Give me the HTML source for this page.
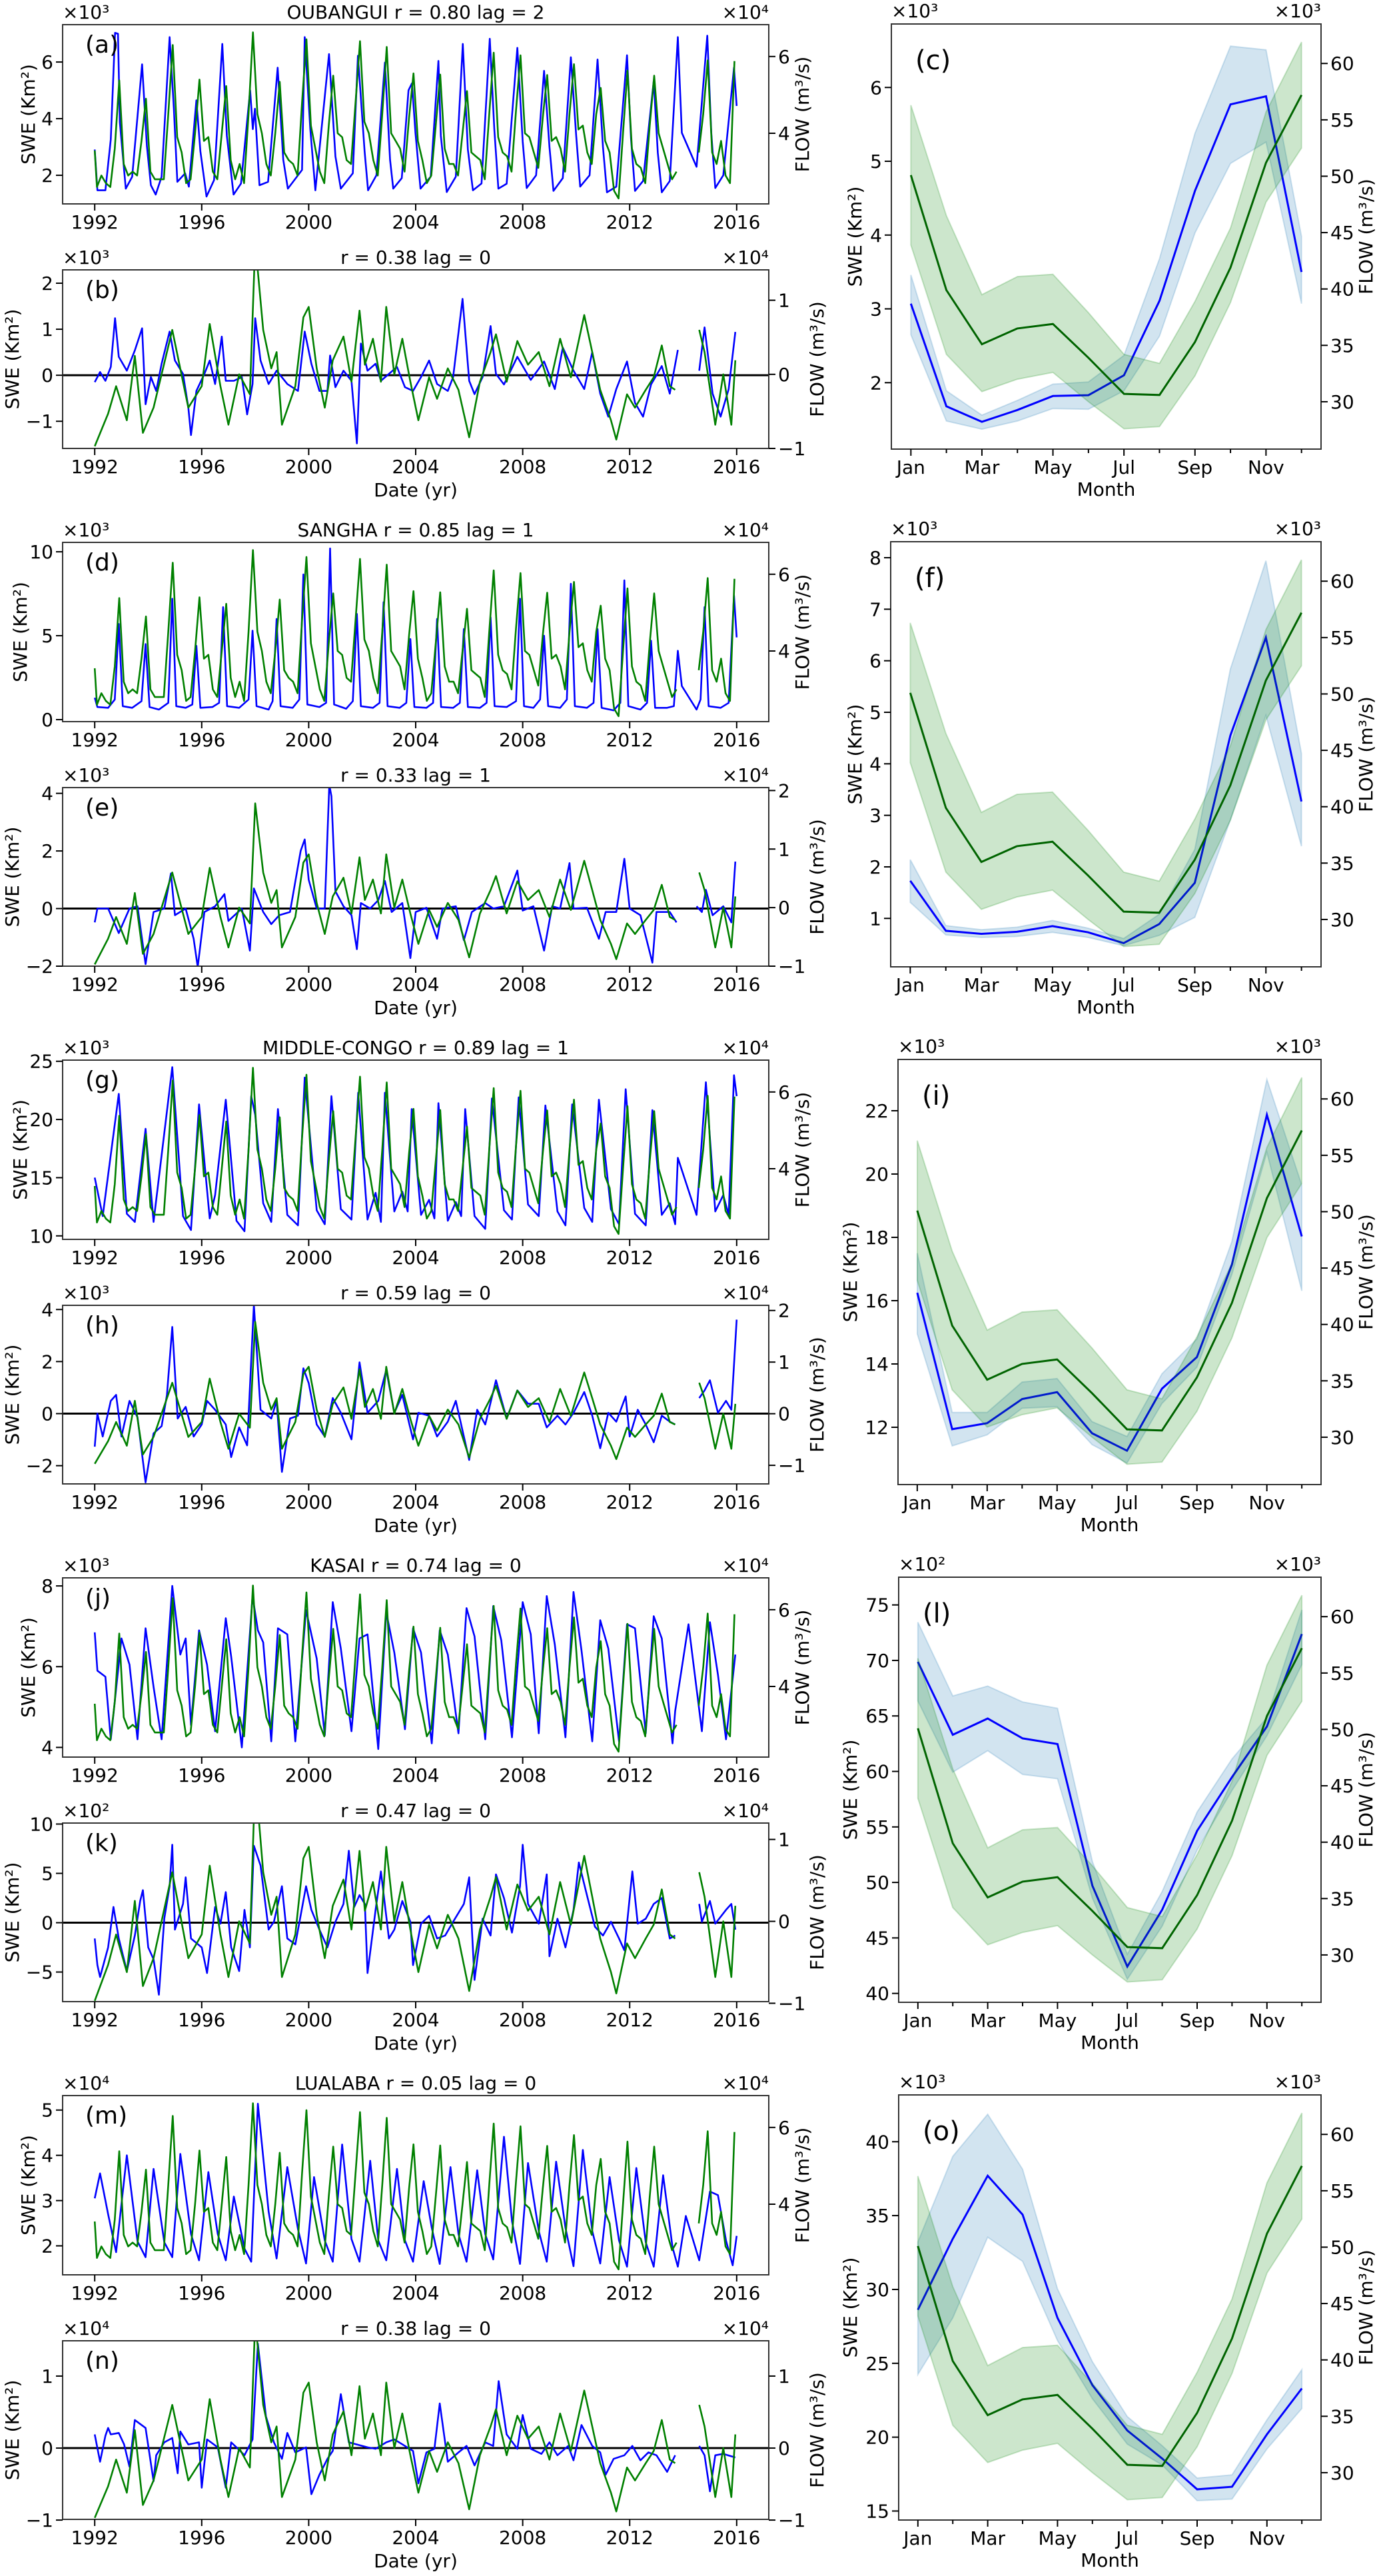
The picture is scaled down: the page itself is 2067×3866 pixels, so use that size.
<!DOCTYPE html>
<html><head><meta charset="utf-8"><title>SWE vs FLOW</title>
<style>
html,body{margin:0;padding:0;background:#fff;}
svg{display:block;font-family:"DejaVu Sans","Liberation Sans",sans-serif;}
</style></head>
<body>
<svg id="fig" xmlns="http://www.w3.org/2000/svg" width="2067" height="3866" viewBox="0 0 2067 3866">
<rect x="0" y="0" width="2067" height="3866" fill="#fff"/>
</svg>
<script>
// ---------------- DATA ----------------
const flowStart = 3.55;
const flowVals = [
2.6,2.9,2.7,2.6,3.6,5.38, 3.2,2.9,3.0,2.9,3.8,4.9, 3.0,2.8,2.8,2.8,4.5,6.3, 3.9,3.5,2.7,2.8,4.0,5.4,
3.8,3.9,3.0,2.8,4.0,5.23, 3.3,2.8,3.2,2.7,4.5,6.63, 4.5,4.0,3.2,2.9,4.0,5.34, 3.5,3.3,3.2,2.9,4.8,6.45,
4.2,3.6,3.0,2.7,4.2,5.5, 4.0,3.9,3.3,3.2,4.8,6.4, 4.3,4.0,3.3,2.9,4.5,6.25, 4.0,3.8,3.6,3.0,4.4,5.56,
3.8,3.3,2.7,2.9,4.2,5.53, 3.6,3.2,3.2,2.9,4.0,5.1, 3.5,3.4,3.3,2.8,4.5,6.1, 3.9,3.5,3.4,3.0,4.6,6.03,
4.0,3.9,3.5,3.1,4.4,5.52, 3.8,3.9,3.6,3.0,4.5,5.8, 4.1,4.2,3.5,3.2,4.5,5.18, 3.8,3.5,2.5,2.3,4.0,5.63,
3.6,3.2,3.1,2.7,4.2,5.5, 4.0,3.6,3.2,2.8,3.0,null, null,null,null,3.5,4.5,5.9, 3.5,3.2,3.8,2.9,2.7,5.88];
const flowMonths = [1,3,5,7,9,11];

const flowAnom = [[1992.0,-0.97],[1992.5,-0.53],[1992.8,-0.16],[1993.2,-0.62],[1993.5,0.25],[1993.8,-0.79],[1994.2,-0.45],[1994.9,0.6],[1995.5,-0.45],[1996.0,-0.16],[1996.3,0.68],[1996.7,-0.16],[1997.0,-0.68],[1997.4,0],[1997.8,-0.27],[1998.0,1.78],[1998.3,0.6],[1998.6,0.08],[1998.8,0.3],[1999.0,-0.68],[1999.5,-0.16],[1999.8,0.77],[2000.0,0.91],[2000.3,0.08],[2000.6,-0.45],[2000.9,0.19],[2001.3,0.51],[2001.6,-0.1],[2001.9,0.86],[2002.1,0.13],[2002.4,0.48],[2002.7,-0.1],[2002.9,0.91],[2003.2,0],[2003.5,0.48],[2003.8,-0.1],[2004.1,-0.62],[2004.5,-0.04],[2004.8,-0.33],[2005.2,0.08],[2005.6,-0.21],[2006.0,-0.85],[2006.4,-0.1],[2006.8,0.3],[2007.0,0.54],[2007.4,-0.1],[2007.8,0.45],[2008.2,0.13],[2008.6,0.3],[2009.0,-0.16],[2009.4,0.48],[2009.8,-0.04],[2010.3,0.8],[2010.6,0.3],[2010.9,-0.21],[2011.3,-0.62],[2011.5,-0.88],[2011.9,-0.27],[2012.2,-0.45],[2012.6,-0.21],[2012.9,-0.04],[2013.2,0.39],[2013.5,-0.16],[2013.7,-0.21],[2014.1,null],[2014.6,0.6],[2014.8,0.3],[2015.2,-0.68],[2015.5,0],[2015.8,-0.68],[2015.95,0.19]];

const sweOubangui = [[1992.0,2.91],[1992.1,1.47],[1992.4,1.47],[1992.6,3.27],[1992.76,7.03],[1992.87,7.0],[1992.94,3.87],[1993.16,1.53],[1993.4,1.95],[1993.77,5.92],[1993.95,3.03],[1994.1,1.65],[1994.28,1.32],[1994.5,1.95],[1994.8,6.88],[1994.96,4.35],[1995.09,1.77],[1995.38,2.07],[1995.52,1.6],[1995.8,4.65],[1995.95,2.85],[1996.18,1.25],[1996.46,1.83],[1996.77,6.64],[1996.94,3.4],[1997.19,1.32],[1997.47,1.71],[1997.81,5.0],[1997.91,3.63],[1997.99,4.35],[1998.16,1.65],[1998.48,1.77],[1998.84,5.8],[1999.05,2.55],[1999.22,1.53],[1999.75,2.19],[1999.85,6.88],[2000.06,3.63],[2000.25,1.47],[2000.76,6.28],[2001.0,2.67],[2001.2,1.53],[2001.65,2.07],[2001.84,6.22],[2002.09,2.85],[2002.22,1.47],[2002.53,2.0],[2002.85,5.98],[2003.04,2.55],[2003.16,1.53],[2003.48,1.9],[2003.73,5.0],[2003.86,5.25],[2003.99,3.51],[2004.18,1.53],[2004.56,1.95],[2004.85,6.04],[2004.94,3.4],[2005.16,1.41],[2005.5,1.95],[2005.76,6.64],[2005.95,2.91],[2006.14,1.47],[2006.46,1.71],[2006.77,6.82],[2006.94,3.63],[2007.09,1.53],[2007.4,1.7],[2007.8,6.5],[2008.0,3.2],[2008.15,1.55],[2008.5,2.0],[2008.8,5.69],[2009.0,3.0],[2009.15,1.45],[2009.5,1.9],[2009.8,6.17],[2010.0,3.4],[2010.15,1.6],[2010.5,2.0],[2010.8,6.09],[2011.0,3.0],[2011.15,1.4],[2011.5,1.6],[2011.9,6.24],[2012.05,3.3],[2012.2,1.45],[2012.5,1.8],[2012.9,5.33],[2013.05,2.8],[2013.2,1.4],[2013.5,1.8],[2013.8,6.88],[2013.95,3.5],[2014.5,2.3],[2014.9,6.93],[2015.05,3.5],[2015.2,1.55],[2015.5,2.0],[2015.9,5.8],[2016.0,4.45]];
const sweSangha = [[1992.0,1.3],[1992.1,0.75],[1992.5,0.7],[1992.75,1.2],[1992.9,5.7],[1993.05,0.8],[1993.4,0.7],[1993.75,1.1],[1993.9,4.5],[1994.05,0.75],[1994.4,0.6],[1994.75,1.0],[1994.9,7.2],[1995.05,0.8],[1995.4,0.7],[1995.65,0.9],[1995.8,4.4],[1995.95,0.7],[1996.4,0.75],[1996.65,1.0],[1996.8,6.7],[1996.95,0.8],[1997.4,0.7],[1997.75,1.2],[1997.9,5.3],[1998.05,0.8],[1998.5,0.6],[1998.65,1.1],[1998.8,6.0],[1998.95,0.8],[1999.4,0.7],[1999.65,1.2],[1999.8,8.65],[1999.95,0.9],[2000.4,0.75],[2000.65,1.0],[2000.8,10.2],[2000.95,0.9],[2001.4,0.65],[2001.65,1.1],[2001.8,6.3],[2001.95,0.8],[2002.4,0.7],[2002.65,1.0],[2002.8,7.0],[2002.95,0.8],[2003.4,0.7],[2003.65,1.0],[2003.8,4.8],[2003.95,0.75],[2004.4,0.7],[2004.65,1.0],[2004.8,6.0],[2004.95,0.75],[2005.4,0.7],[2005.65,1.0],[2005.8,5.4],[2005.95,0.75],[2006.4,0.7],[2006.65,1.0],[2006.8,6.1],[2006.95,0.8],[2007.4,0.75],[2007.75,1.1],[2007.9,7.2],[2008.05,0.8],[2008.4,0.7],[2008.65,1.2],[2008.8,5.0],[2008.95,0.8],[2009.4,0.7],[2009.65,1.2],[2009.8,8.1],[2009.95,0.8],[2010.4,0.7],[2010.65,1.0],[2010.8,5.4],[2010.95,0.7],[2011.4,0.55],[2011.65,1.0],[2011.8,8.3],[2011.95,0.8],[2012.4,0.6],[2012.65,1.0],[2012.8,4.7],[2012.95,0.7],[2013.4,0.7],[2013.65,0.8],[2013.8,4.1],[2013.95,2.0],[2014.5,0.6],[2014.65,1.2],[2014.8,6.7],[2014.95,0.8],[2015.4,0.7],[2015.7,1.0],[2015.9,7.4],[2016.0,4.9]];
const sweMiddleCongo = [[1992.0,15],[1992.3,11.7],[1992.9,22.2],[1993.2,11.9],[1993.5,11.2],[1993.9,19.2],[1994.2,11.2],[1994.9,24.5],[1995.3,11.7],[1995.6,10.5],[1995.9,21.3],[1996.3,11.5],[1996.5,13.5],[1996.9,21.7],[1997.3,11.3],[1997.6,10.4],[1997.85,22.0],[1998.0,20.4],[1998.3,12.8],[1998.6,11.2],[1998.85,20.9],[1999.2,11.8],[1999.6,10.9],[1999.85,23.6],[2000.3,12.2],[2000.6,11.0],[2000.85,22.0],[2001.2,12.3],[2001.6,11.4],[2001.85,22.3],[2002.2,11.4],[2002.5,13.7],[2002.7,11.2],[2002.85,22.3],[2003.2,12.1],[2003.5,13.8],[2003.7,12.1],[2003.85,20.9],[2004.2,11.8],[2004.5,13.1],[2004.7,11.5],[2004.85,21.4],[2005.2,11.3],[2005.5,12.9],[2005.7,11.7],[2005.85,20.9],[2006.2,11.7],[2006.6,10.6],[2006.85,21.8],[2007.3,12.2],[2007.6,11.4],[2007.85,21.9],[2008.2,12.7],[2008.6,11.7],[2008.85,21.2],[2009.3,12.1],[2009.6,10.9],[2009.85,21.3],[2010.3,12.4],[2010.6,11.2],[2010.85,21.7],[2011.3,12.3],[2011.6,11.0],[2011.85,22.6],[2012.2,11.9],[2012.6,10.9],[2012.85,20.8],[2013.2,11.8],[2013.5,12.8],[2013.7,11.0],[2013.8,16.7],[2014.5,11.8],[2014.85,23.2],[2015.2,12.1],[2015.5,13.5],[2015.7,11.8],[2015.9,23.8],[2016.0,22.0]];
const sweKasai = [[1992.0,6.85],[1992.1,5.9],[1992.4,5.75],[1992.6,4.2],[1993.0,6.7],[1993.3,6.05],[1993.6,4.2],[1993.9,6.95],[1994.2,5.5],[1994.5,4.2],[1994.9,8.0],[1995.2,6.3],[1995.4,6.7],[1995.6,4.55],[1995.9,6.9],[1996.2,6.05],[1996.5,4.4],[1996.9,7.2],[1997.1,6.25],[1997.5,4.0],[1997.9,7.75],[1998.1,6.9],[1998.3,6.6],[1998.6,4.15],[1998.85,6.95],[1999.2,6.8],[1999.5,4.15],[1999.9,7.4],[2000.3,6.2],[2000.6,4.3],[2000.9,7.6],[2001.2,6.45],[2001.6,4.4],[2001.9,6.7],[2002.2,6.8],[2002.6,3.96],[2002.9,7.35],[2003.2,6.35],[2003.6,4.45],[2003.9,6.95],[2004.2,6.35],[2004.6,4.1],[2004.9,6.9],[2005.2,6.3],[2005.6,4.35],[2005.9,7.45],[2006.2,6.75],[2006.6,4.2],[2006.9,7.5],[2007.2,6.65],[2007.6,4.25],[2008.0,7.6],[2008.3,6.8],[2008.6,4.35],[2008.9,7.75],[2009.2,6.55],[2009.6,4.25],[2009.9,7.85],[2010.2,6.4],[2010.6,4.15],[2010.9,7.15],[2011.2,6.45],[2011.6,4.15],[2011.9,7.05],[2012.2,6.95],[2012.6,4.35],[2012.9,7.25],[2013.2,6.7],[2013.6,4.1],[2013.7,4.9],[2014.2,7.05],[2014.7,4.4],[2015.0,7.1],[2015.3,5.8],[2015.6,4.2],[2015.95,6.3]];
const sweLualaba = [[1992.0,3.05],[1992.2,3.6],[1992.5,2.7],[1992.8,1.86],[1993.2,4.0],[1993.6,2.1],[1993.9,1.75],[1994.2,3.7],[1994.6,2.08],[1994.9,1.75],[1995.2,4.03],[1995.6,2.26],[1995.9,1.68],[1996.25,3.63],[1996.6,2.26],[1996.9,1.68],[1997.2,3.09],[1997.6,1.94],[1997.85,1.65],[1998.1,5.14],[1998.5,2.76],[1998.8,1.72],[1999.2,3.74],[1999.6,2.37],[1999.9,1.61],[2000.2,3.52],[2000.6,2.12],[2000.9,1.65],[2001.25,4.24],[2001.6,2.15],[2001.9,1.65],[2002.3,3.88],[2002.6,2.12],[2002.9,1.68],[2003.3,3.7],[2003.6,2.12],[2003.9,1.65],[2004.3,3.43],[2004.6,2.4],[2004.9,1.6],[2005.3,3.74],[2005.6,2.26],[2005.9,1.65],[2006.3,3.67],[2006.6,2.26],[2006.9,1.7],[2007.3,4.41],[2007.6,2.55],[2007.9,1.6],[2008.2,3.83],[2008.6,2.33],[2008.9,1.65],[2009.25,3.86],[2009.6,2.4],[2009.9,1.55],[2010.25,4.12],[2010.6,2.33],[2010.9,1.61],[2011.25,3.52],[2011.6,2.12],[2011.9,1.54],[2012.25,3.72],[2012.6,2.08],[2012.9,1.54],[2013.25,3.56],[2013.6,1.97],[2013.8,1.54],[2014.1,2.66],[2014.6,1.68],[2015.0,3.2],[2015.3,3.12],[2015.6,2.12],[2015.85,1.57],[2016.0,2.22]];

const anomOubangui = [[1992.0,-0.15],[1992.2,0.07],[1992.4,-0.12],[1992.6,0.18],[1992.76,1.24],[1992.9,0.4],[1993.2,0.1],[1993.5,0.54],[1993.77,1.02],[1993.9,-0.63],[1994.1,-0.04],[1994.3,-0.34],[1994.5,0.25],[1994.8,0.95],[1995.0,0.32],[1995.3,0.03],[1995.5,-0.7],[1995.6,-1.3],[1995.8,-0.34],[1996.1,0.03],[1996.3,0.32],[1996.5,-0.19],[1996.75,0.84],[1996.9,-0.12],[1997.2,-0.12],[1997.5,-0.04],[1997.7,-0.85],[1997.9,-0.19],[1998.0,1.24],[1998.2,0.32],[1998.5,-0.19],[1998.8,0.1],[1999.2,-0.19],[1999.6,-0.34],[1999.85,0.95],[2000.1,0.25],[2000.4,-0.34],[2000.7,-0.34],[2000.8,0.43],[2001.0,-0.26],[2001.3,0.1],[2001.6,-0.12],[2001.8,-1.48],[2001.95,0.69],[2002.2,0.1],[2002.5,0.25],[2002.7,-0.12],[2003.0,0.03],[2003.3,0.18],[2003.6,-0.26],[2003.9,-0.34],[2004.2,-0.04],[2004.5,0.32],[2004.8,-0.19],[2005.2,-0.34],[2005.4,-0.04],[2005.75,1.66],[2006.0,-0.12],[2006.2,-0.41],[2006.5,-0.04],[2006.8,1.07],[2007.0,0.03],[2007.3,-0.2],[2007.8,0.4],[2008.3,-0.1],[2008.8,0.3],[2009.2,-0.3],[2009.5,0.6],[2009.9,0.1],[2010.3,-0.3],[2010.6,0.5],[2010.9,-0.4],[2011.2,-0.9],[2011.5,-0.3],[2011.9,0.3],[2012.2,-0.6],[2012.5,-0.9],[2012.8,-0.2],[2013.2,0.2],[2013.5,-0.4],[2013.8,0.55],[2014.2,null],[2014.6,0.1],[2014.8,1.04],[2015.1,-0.4],[2015.4,-0.9],[2015.7,-0.3],[2015.95,0.94]];
const anomSangha = [[1992.0,-0.48],[1992.1,0],[1992.5,0],[1992.9,-0.85],[1993.3,0],[1993.6,0.08],[1993.9,-1.93],[1994.2,-0.12],[1994.6,0],[1994.85,1.22],[1995.0,-0.23],[1995.4,0],[1995.7,-1.05],[1995.85,-2.03],[1996.1,-0.12],[1996.5,0.08],[1996.85,0.5],[1997.0,-0.43],[1997.5,0],[1997.8,-1.46],[1997.95,0.7],[1998.3,-0.12],[1998.6,-0.54],[1998.9,-0.23],[1999.3,-0.12],[1999.7,2.0],[1999.85,2.4],[2000.0,1.0],[2000.3,0],[2000.6,0],[2000.77,4.3],[2000.85,3.9],[2001.0,0.6],[2001.3,0.08],[2001.6,-0.23],[2001.8,-1.41],[2001.95,0.19],[2002.3,0],[2002.6,0.29],[2002.85,0.96],[2003.1,-0.12],[2003.5,0.19],[2003.8,-1.72],[2004.0,-0.12],[2004.4,0.03],[2004.8,-1.05],[2005.0,0],[2005.5,0.08],[2005.8,-1.1],[2006.1,-0.12],[2006.6,0.19],[2006.9,0],[2007.3,0.08],[2007.8,1.32],[2008.0,-0.07],[2008.4,0.08],[2008.8,-1.46],[2009.1,0.08],[2009.4,0],[2009.75,1.58],[2009.9,0],[2010.4,0.03],[2010.85,-1.05],[2011.1,-0.12],[2011.5,-0.12],[2011.8,1.73],[2012.0,0],[2012.4,-0.23],[2012.85,-1.88],[2013.0,-0.12],[2013.5,-0.12],[2013.75,-0.48],[2014.1,null],[2014.5,0.08],[2014.7,-0.12],[2014.85,0.65],[2015.1,-0.23],[2015.5,0.08],[2015.8,-0.48],[2015.95,1.63]];
const anomMiddleCongo = [[1992.0,-1.27],[1992.1,0],[1992.3,-0.88],[1992.6,0.49],[1992.8,0.72],[1993.0,-0.88],[1993.3,0.49],[1993.6,-0.14],[1993.9,-2.64],[1994.2,-0.76],[1994.5,-0.48],[1994.7,0.72],[1994.9,3.33],[1995.1,-0.19],[1995.4,0.26],[1995.7,-0.88],[1996.0,-0.42],[1996.2,0.49],[1996.5,0.15],[1996.9,-0.42],[1997.1,-1.67],[1997.4,-0.53],[1997.7,-1.22],[1997.95,4.18],[1998.2,0.15],[1998.6,-0.19],[1998.8,0.49],[1999.0,-2.24],[1999.3,-0.19],[1999.6,-0.08],[1999.8,1.74],[2000.0,1.17],[2000.3,-0.42],[2000.6,-0.88],[2000.9,0.6],[2001.2,0.03],[2001.6,-0.99],[2001.9,1.97],[2002.2,0.03],[2002.6,0.49],[2002.9,1.68],[2003.2,0.03],[2003.5,0.72],[2003.9,-0.99],[2004.1,0.03],[2004.5,-0.08],[2004.8,-0.88],[2005.2,-0.31],[2005.5,0.49],[2006.0,-1.78],[2006.3,0.15],[2006.6,-0.42],[2007.0,1.28],[2007.4,-0.19],[2007.8,0.89],[2008.2,0.38],[2008.6,0.38],[2008.9,-0.53],[2009.3,-0.08],[2009.6,-0.42],[2009.9,0.03],[2010.3,0.83],[2010.6,-0.08],[2010.9,-1.33],[2011.2,0.03],[2011.5,-0.31],[2011.85,0.66],[2012.0,-0.88],[2012.3,0.15],[2012.6,-0.42],[2012.9,-1.1],[2013.2,-0.08],[2013.5,-0.31],[2013.7,-0.42],[2014.1,null],[2014.6,0.6],[2014.8,0.89],[2015.0,1.28],[2015.3,0.03],[2015.6,0.49],[2015.8,0.15],[2016.0,3.61]];
const anomKasai = [[1992.0,-1.6],[1992.1,-4.3],[1992.2,-5.5],[1992.5,-2.5],[1992.7,1.6],[1992.9,-1.6],[1993.2,-4.9],[1993.5,-1.3],[1993.7,2.2],[1993.8,3.3],[1994.0,-2.5],[1994.2,-3.7],[1994.4,-7.3],[1994.6,0.4],[1994.8,3.7],[1994.9,7.9],[1995.0,-0.7],[1995.3,1.9],[1995.4,4.6],[1995.6,-1.6],[1996.0,-2.5],[1996.2,-5.1],[1996.5,1.6],[1996.7,-0.1],[1996.9,3.1],[1997.1,-2.5],[1997.4,-4.9],[1997.6,1.3],[1997.8,-2.5],[1997.95,7.8],[1998.2,5.8],[1998.5,-0.7],[1998.7,0.1],[1999.0,3.7],[1999.2,-1.6],[1999.5,-2.2],[1999.9,3.7],[2000.1,1.3],[2000.4,-0.7],[2000.7,-2.5],[2001.0,0.1],[2001.3,1.9],[2001.5,7.3],[2001.7,1.6],[2001.9,2.8],[2002.1,1.9],[2002.2,-5.1],[2002.5,1.3],[2002.7,5.2],[2003.0,-1.6],[2003.2,-0.7],[2003.5,2.2],[2003.8,0.1],[2003.9,-4.3],[2004.2,-0.1],[2004.5,0.7],[2004.8,-1.6],[2005.1,-1.3],[2005.4,0.1],[2005.8,1.9],[2006.0,4.6],[2006.2,-5.8],[2006.5,0.4],[2006.8,-1.3],[2007.0,4.9],[2007.3,2.5],[2007.6,-1.0],[2007.9,3.7],[2008.0,7.9],[2008.2,1.9],[2008.6,-0.1],[2008.9,4.9],[2009.0,-3.4],[2009.3,0.4],[2009.6,-2.5],[2009.9,1.3],[2010.1,6.1],[2010.4,2.8],[2010.7,-0.4],[2011.0,-1.3],[2011.3,0.1],[2011.6,-1.6],[2011.8,-2.8],[2012.1,5.2],[2012.3,-0.1],[2012.6,0.4],[2012.9,1.9],[2013.2,2.5],[2013.5,-1.6],[2013.7,-1.3],[2014.1,null],[2014.6,1.9],[2014.7,0.1],[2015.0,2.2],[2015.2,-0.1],[2015.6,1.3],[2015.8,1.9],[2015.95,-0.7]];
const anomLualaba = [[1992.0,0.19],[1992.2,-0.19],[1992.4,0.17],[1992.5,0.28],[1992.6,0.19],[1992.9,0.21],[1993.1,0.05],[1993.3,-0.26],[1993.5,0.39],[1993.9,0.28],[1994.2,-0.46],[1994.3,-0.1],[1994.6,0.08],[1994.9,0.14],[1995.1,-0.35],[1995.2,0.23],[1995.5,0.05],[1995.9,0.08],[1996.0,-0.55],[1996.2,0.12],[1996.6,0.01],[1996.9,-0.55],[1997.1,0.08],[1997.3,0.01],[1997.6,-0.1],[1997.9,0.12],[1998.1,1.45],[1998.4,0.44],[1998.7,0.08],[1999.0,-0.15],[1999.2,0.21],[1999.5,-0.06],[1999.9,0.01],[2000.1,-0.64],[2000.4,-0.37],[2000.7,-0.15],[2000.9,-0.04],[2001.2,0.75],[2001.5,0.08],[2001.8,0.05],[2002.2,0.01],[2002.5,-0.01],[2002.9,0.08],[2003.2,0.12],[2003.6,0.03],[2003.9,-0.04],[2004.1,-0.49],[2004.4,-0.06],[2004.7,-0.01],[2004.9,0.62],[2005.2,-0.19],[2005.6,-0.06],[2005.9,0.03],[2006.2,-0.24],[2006.6,0.08],[2006.9,0.03],[2007.1,0.93],[2007.4,0.19],[2007.8,-0.01],[2008.0,0.46],[2008.3,-0.01],[2008.7,-0.08],[2009.0,0.08],[2009.3,-0.1],[2009.7,0.03],[2009.9,-0.17],[2010.2,0.32],[2010.6,0.03],[2010.9,-0.06],[2011.1,-0.37],[2011.4,-0.15],[2011.8,-0.1],[2012.1,0.03],[2012.4,-0.17],[2012.7,-0.06],[2013.0,-0.1],[2013.4,-0.33],[2013.7,-0.1],[2014.1,null],[2014.6,0.03],[2014.8,-0.1],[2015.0,-0.6],[2015.2,-0.1],[2015.5,-0.08],[2015.95,-0.13]];

const monthLabels = ['Jan','Feb','Mar','Apr','May','Jun','Jul','Aug','Sep','Oct','Nov','Dec'];
const flowClim   = [50.1,39.9,35.1,36.5,36.9,33.9,30.7,30.6,35.3,41.9,51.2,57.2];
const flowClimLo = [43.9,34.2,30.9,32.0,32.6,30.0,27.6,27.8,32.3,38.8,47.7,52.5];
const flowClimHi = [56.3,46.5,39.5,41.1,41.3,37.9,34.2,33.4,38.9,45.4,55.7,61.9];
const climOubangui   = [3.07,1.68,1.47,1.63,1.82,1.83,2.1,3.11,4.6,5.77,5.88,3.5];
const climOubanguiLo = [2.65,1.48,1.37,1.48,1.65,1.64,1.89,2.63,4.03,4.97,5.26,3.07];
const climOubanguiHi = [3.46,1.89,1.56,1.76,1.98,2.01,2.37,3.68,5.38,6.56,6.51,3.98];
const climSangha   = [1.73,0.76,0.7,0.74,0.85,0.73,0.52,0.89,1.69,4.55,6.45,3.27];
const climSanghaLo = [1.31,0.68,0.63,0.65,0.73,0.63,0.47,0.67,1.02,2.91,4.94,2.4];
const climSanghaHi = [2.14,0.86,0.78,0.83,0.96,0.81,0.61,1.08,2.34,5.84,7.94,4.2];
const climMiddle   = [16.25,11.94,12.13,12.89,13.11,11.81,11.26,13.22,14.22,17.14,21.87,18.03];
const climMiddleLo = [14.95,11.41,11.76,12.6,12.65,11.45,10.87,12.75,13.9,16.83,20.69,16.31];
const climMiddleHi = [17.5,12.47,12.47,13.43,13.54,12.18,11.71,13.69,14.79,17.87,22.99,19.65];
const climKasai   = [69.87,63.3,64.77,62.98,62.47,49.7,42.42,47.55,54.65,59.49,64.05,72.38];
const climKasaiLo = [66.35,59.93,61.87,59.73,59.34,48.59,41.28,46.06,52.92,58.29,63.22,69.63];
const climKasaiHi = [73.45,66.8,67.69,66.26,65.69,51.88,43.52,49.19,56.35,61.13,64.86,74.56];
const climLualaba   = [28.62,33.43,37.7,35.07,28.07,23.52,20.45,18.55,16.47,16.64,20.19,23.3];
const climLualabaLo = [24.24,28.07,33.54,31.9,26.54,22.6,19.53,18.11,15.7,15.81,19.2,21.94];
const climLualabaHi = [33.21,39.01,41.86,38.14,30.04,25.11,21.39,19.42,17.23,17.45,21.17,24.57];

const yearTicks = [1992,1996,2000,2004,2008,2012,2016];
const flowTicks = [4,6];
const flowClimTicks = [30,35,40,45,50,55,60];

// ---------------- DRAWING ----------------
const NS = 'http://www.w3.org/2000/svg';
const svg = document.getElementById('fig');
function mk(tag, parent, name) {
  const e = document.createElementNS(NS, tag);
  
  
  parent.appendChild(e);
  return e;
}
function txt(parent, name, x, y, s, size, anchor, rot) {
  const t = mk('text', parent, name);
  t.setAttribute('x', x); t.setAttribute('y', y);
  t.setAttribute('font-size', size); t.setAttribute('text-anchor', anchor || 'start');
  t.setAttribute('fill', '#000');
  if (rot) t.setAttribute('transform', 'rotate(' + rot + ' ' + x + ' ' + y + ')');
  t.textContent = s;
  return t;
}
function line(parent, name, x1, y1, x2, y2, w, c) {
  const l = mk('line', parent, name);
  l.setAttribute('x1', x1); l.setAttribute('y1', y1); l.setAttribute('x2', x2); l.setAttribute('y2', y2);
  l.setAttribute('stroke', c || '#000'); l.setAttribute('stroke-width', w || 2);
  return l;
}
function lin(d0, d1, r0, r1) { return v => r0 + (v - d0) / (d1 - d0) * (r1 - r0); }
function fmt(v) { return (v < 0 ? '\u2212' : '') + Math.abs(v); }
function pathFrom(pts, sx, sy) {
  let d = '', pen = false;
  for (const p of pts) {
    if (p[1] === null) { pen = false; continue; }
    d += (pen ? 'L' : 'M') + sx(p[0]).toFixed(1) + ' ' + sy(p[1]).toFixed(1);
    pen = true;
  }
  return d;
}
let clipId = 0;
function makeClip(x, y, w, h) {
  const id = 'clip' + (clipId++);
  const cp = mk('clipPath', svg, 'clip-region');
  cp.setAttribute('id', id);
  const r = mk('rect', cp, 'clip-rect');
  r.setAttribute('x', x); r.setAttribute('y', y); r.setAttribute('width', w); r.setAttribute('height', h);
  return id;
}

const flowSeries = [[1992.0, flowStart]];
for (let i = 0; i < flowVals.length; i++) {
  const yr = 1992 + Math.floor(i / 6);
  flowSeries.push([yr + flowMonths[i % 6] / 12, flowVals[i]]);
}

const LX0 = 94, LX1 = 1154;
function timePanel(cfg) {
  const g = mk('g', svg, 'panel-' + cfg.letter);
  const y0 = cfg.top, y1 = cfg.top + cfg.h;
  const sx = lin(1990.8, 2017.2, LX0, LX1);
  const sy = lin(cfg.yr[0], cfg.yr[1], y1, y0);
  const sy2 = lin(cfg.yr2[0], cfg.yr2[1], y1, y0);
  const cid = makeClip(LX0, y0, LX1 - LX0, cfg.h);
  if (cfg.zero) {
    line(g, 'zero-line', LX0, sy(0), LX1, sy(0), 3, '#000');
  }
  const pb = mk('path', g, 'swe-line');
  pb.setAttribute('d', pathFrom(cfg.swe, sx, sy));
  pb.setAttribute('fill', 'none'); pb.setAttribute('stroke', '#0000ff'); pb.setAttribute('stroke-width', 2.6);
  pb.setAttribute('stroke-linejoin', 'round'); pb.setAttribute('clip-path', 'url(#' + cid + ')');
  const pg = mk('path', g, 'flow-line');
  pg.setAttribute('d', pathFrom(cfg.flow, sx, sy2));
  pg.setAttribute('fill', 'none'); pg.setAttribute('stroke', '#008000'); pg.setAttribute('stroke-width', 2.6);
  pg.setAttribute('stroke-linejoin', 'round'); pg.setAttribute('clip-path', 'url(#' + cid + ')');
  const fr = mk('rect', g, 'axes-frame');
  fr.setAttribute('x', LX0); fr.setAttribute('y', y0); fr.setAttribute('width', LX1 - LX0); fr.setAttribute('height', cfg.h);
  fr.setAttribute('fill', 'none'); fr.setAttribute('stroke', '#333'); fr.setAttribute('stroke-width', 2);
  for (const t of cfg.yt) {
    line(g, 'y-tick', LX0 - 10, sy(t), LX0, sy(t), 2);
    txt(g, 'y-tick-label', LX0 - 14, sy(t) + 10, fmt(t), 28, 'end');
  }
  for (const t of cfg.yt2) {
    line(g, 'y2-tick', LX1, sy2(t), LX1 + 10, sy2(t), 2);
    txt(g, 'y2-tick-label', LX1 + 14, sy2(t) + 10, fmt(t), 28, 'start');
  }
  for (const t of yearTicks) {
    line(g, 'x-tick', sx(t), y1, sx(t), y1 + 10, 2);
    txt(g, 'x-tick-label', sx(t), y1 + 37, String(t), 28, 'middle');
  }
  txt(g, 'panel-title', (LX0 + LX1) / 2, y0 - 9, cfg.title, 28, 'middle');
  txt(g, 'y-exponent', LX0, y0 - 9, '\u00d710' + cfg.exp, 28, 'start');
  txt(g, 'y2-exponent', LX1, y0 - 9, '\u00d710\u2074', 28, 'end');
  txt(g, 'panel-letter', 128, y0 + 42, '(' + cfg.letter + ')', 36, 'start');
  txt(g, 'y-axis-title', cfg.ylx, (y0 + y1) / 2, 'SWE (Km\u00b2)', 28, 'middle', -90);
  txt(g, 'y2-axis-title', cfg.y2lx, (y0 + y1) / 2, 'FLOW (m\u00b3/s)', 28, 'middle', -90);
  if (cfg.zero) txt(g, 'x-axis-title', (LX0 + LX1) / 2, y0 + 340, 'Date (yr)', 28, 'middle');
}

function climPanel(cfg) {
  const g = mk('g', svg, 'panel-' + cfg.letter);
  const x0 = cfg.left, x1 = 1983, y0 = cfg.top, y1 = cfg.top + 638;
  const sx = lin(-0.55, 11.55, x0, x1);
  const sy = lin(cfg.yr[0], cfg.yr[1], y1, y0);
  const sy2 = lin(25.8, 63.5, y1, y0);
  const idx = monthLabels.map((m, i) => i);
  function band(lo, hi, s, col, name) {
    let d = '';
    idx.forEach(i => { d += (i ? 'L' : 'M') + sx(i).toFixed(1) + ' ' + s(hi[i]).toFixed(1); });
    for (let i = 11; i >= 0; i--) d += 'L' + sx(i).toFixed(1) + ' ' + s(lo[i]).toFixed(1);
    const p = mk('path', g, name);
    p.setAttribute('d', d + 'Z'); p.setAttribute('fill', col); p.setAttribute('fill-opacity', 0.2);
    p.setAttribute('stroke', col); p.setAttribute('stroke-opacity', 0.2); p.setAttribute('stroke-width', 2);
  }
  function mline(vals, s, col, name) {
    const p = mk('path', g, name);
    p.setAttribute('d', pathFrom(idx.map(i => [i, vals[i]]), sx, s));
    p.setAttribute('fill', 'none'); p.setAttribute('stroke', col); p.setAttribute('stroke-width', 3);
  }
  band(cfg.lo, cfg.hi, sy, '#1f77b4', 'swe-band');
  mline(cfg.mean, sy, '#0000ff', 'swe-mean-line');
  band(flowClimLo, flowClimHi, sy2, '#008000', 'flow-band');
  mline(flowClim, sy2, '#006400', 'flow-mean-line');
  const fr = mk('rect', g, 'axes-frame');
  fr.setAttribute('x', x0); fr.setAttribute('y', y0); fr.setAttribute('width', x1 - x0); fr.setAttribute('height', y1 - y0);
  fr.setAttribute('fill', 'none'); fr.setAttribute('stroke', '#333'); fr.setAttribute('stroke-width', 2);
  for (const t of cfg.yt) {
    line(g, 'y-tick', x0 - 10, sy(t), x0, sy(t), 2);
    txt(g, 'y-tick-label', x0 - 14, sy(t) + 10, fmt(t), 28, 'end');
  }
  for (const t of flowClimTicks) {
    line(g, 'y2-tick', x1, sy2(t), x1 + 10, sy2(t), 2);
    txt(g, 'y2-tick-label', x1 + 14, sy2(t) + 10, String(t), 28, 'start');
  }
  idx.forEach(i => {
    line(g, 'x-tick', sx(i), y1, sx(i), y1 + (i % 2 ? 6 : 10), 2);
    if (i % 2 === 0) txt(g, 'x-tick-label', sx(i), y1 + 37, monthLabels[i], 28, 'middle');
  });
  txt(g, 'x-axis-title', (x0 + x1) / 2, y1 + 70, 'Month', 28, 'middle');
  txt(g, 'y-exponent', x0, y0 - 10, '\u00d710' + cfg.exp, 28, 'start');
  txt(g, 'y2-exponent', x1, y0 - 10, '\u00d710\u00b3', 28, 'end');
  txt(g, 'panel-letter', x0 + 36, y0 + 68, '(' + cfg.letter + ')', 40, 'start');
  txt(g, 'y-axis-title', cfg.ylx, (y0 + y1) / 2, 'SWE (Km\u00b2)', 28, 'middle', -90);
  txt(g, 'y2-axis-title', 2060, (y0 + y1) / 2, 'FLOW (m\u00b3/s)', 28, 'middle', -90);
}

const T = [37, 814, 1591, 2368, 3145];
const FR = [2.16, 6.83];
const levelCfg = [
  {letter:'a', title:'OUBANGUI r = 0.80 lag = 2', swe:sweOubangui, yr:[0.99,7.32], yt:[2,4,6], exp:'\u00b3', ylx:52},
  {letter:'d', title:'SANGHA r = 0.85 lag = 1', swe:sweSangha, yr:[-0.12,10.56], yt:[0,5,10], exp:'\u00b3', ylx:40},
  {letter:'g', title:'MIDDLE-CONGO r = 0.89 lag = 1', swe:sweMiddleCongo, yr:[9.7,25.1], yt:[10,15,20,25], exp:'\u00b3', ylx:40},
  {letter:'j', title:'KASAI r = 0.74 lag = 0', swe:sweKasai, yr:[3.76,8.2], yt:[4,6,8], exp:'\u00b3', ylx:52},
  {letter:'m', title:'LUALABA r = 0.05 lag = 0', swe:sweLualaba, yr:[1.36,5.32], yt:[2,3,4,5], exp:'\u2074', ylx:52}
];
const anomCfg = [
  {letter:'b', title:'r = 0.38 lag = 0', swe:anomOubangui, yr:[-1.59,2.29], yt:[-1,0,1,2], yr2:[-1,1.41], yt2:[-1,0,1], exp:'\u00b3', ylx:28, y2lx:1236},
  {letter:'e', title:'r = 0.33 lag = 1', swe:anomSangha, yr:[-2.0,4.2], yt:[-2,0,2,4], yr2:[-1,2.05], yt2:[-1,0,1,2], exp:'\u00b3', ylx:28, y2lx:1236},
  {letter:'h', title:'r = 0.59 lag = 0', swe:anomMiddleCongo, yr:[-2.7,4.16], yt:[-2,0,2,4], yr2:[-1.36,2.1], yt2:[-1,0,1,2], exp:'\u00b3', ylx:28, y2lx:1236},
  {letter:'k', title:'r = 0.47 lag = 0', swe:anomKasai, yr:[-8,10.1], yt:[-5,0,5,10], yr2:[-0.98,1.2], yt2:[-1,0,1], exp:'\u00b2', ylx:28, y2lx:1236},
  {letter:'n', title:'r = 0.38 lag = 0', swe:anomLualaba, yr:[-0.99,1.49], yt:[-1,0,1], yr2:[-0.99,1.49], yt2:[-1,0,1], exp:'\u2074', ylx:28, y2lx:1236}
];
const climCfg = [
  {letter:'c', mean:climOubangui, lo:climOubanguiLo, hi:climOubanguiHi, yr:[1.1,6.86], yt:[2,3,4,5,6], exp:'\u00b3', left:1338, ylx:1293},
  {letter:'f', mean:climSangha, lo:climSanghaLo, hi:climSanghaHi, yr:[0.06,8.31], yt:[1,2,3,4,5,6,7,8], exp:'\u00b3', left:1337, ylx:1293},
  {letter:'i', mean:climMiddle, lo:climMiddleLo, hi:climMiddleHi, yr:[10.19,23.62], yt:[12,14,16,18,20,22], exp:'\u00b3', left:1348, ylx:1286},
  {letter:'l', mean:climKasai, lo:climKasaiLo, hi:climKasaiHi, yr:[39.2,77.5], yt:[40,45,50,55,60,65,70,75], exp:'\u00b2', left:1349, ylx:1286},
  {letter:'o', mean:climLualaba, lo:climLualabaLo, hi:climLualabaHi, yr:[14.39,43.17], yt:[15,20,25,30,35,40], exp:'\u00b3', left:1349, ylx:1286}
];
for (let k = 0; k < 5; k++) {
  const a = levelCfg[k];
  timePanel({letter:a.letter, title:a.title, swe:a.swe, flow:flowSeries, top:T[k], h:269, yr:a.yr, yt:a.yt,
    yr2:FR, yt2:flowTicks, exp:a.exp, ylx:a.ylx, y2lx:1214, zero:false});
  const b = anomCfg[k];
  timePanel({letter:b.letter, title:b.title, swe:b.swe, flow:flowAnom, top:T[k] + 368, h:268, yr:b.yr, yt:b.yt,
    yr2:b.yr2, yt2:b.yt2, exp:b.exp, ylx:b.ylx, y2lx:b.y2lx, zero:true});
  const c = climCfg[k];
  climPanel({letter:c.letter, mean:c.mean, lo:c.lo, hi:c.hi, yr:c.yr, yt:c.yt, exp:c.exp, left:c.left, ylx:c.ylx, top:T[k] - 1});
}
</script>
</body></html>
